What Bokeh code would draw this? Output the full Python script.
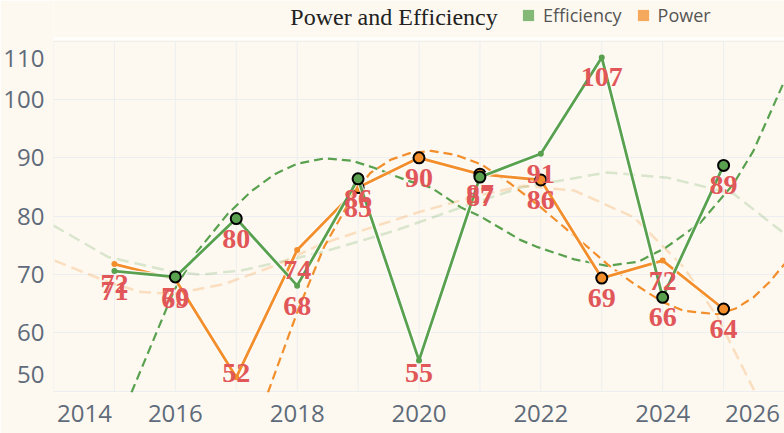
from bokeh.plotting import figure
from bokeh.models import (Range1d, FixedTicker, Legend, LegendItem, Label,
                          ColumnDataSource, Span)
from bokeh.core.properties import value
from bokeh.embed import file_html
from bokeh.resources import INLINE

# ---------------- data ----------------
title_text = "Power and Efficiency"
series_names = ["Efficiency", "Power"]
years = [2015, 2016, 2017, 2018, 2019, 2020, 2021, 2022, 2023, 2024, 2025]
efficiency = [70.6, 69.6, 79.6, 68.1, 86.4, 55.3, 86.7, 90.7, 107.2, 66.1, 88.7]
power = [71.8, 69.2, 52.4, 74.2, 84.9, 90.0, 87.2, 86.2, 69.4, 72.4, 64.1]
eff_highlight = [False, True, True, False, True, False, True, False, False, True, True]
pow_highlight = [False, False, False, False, True, True, True, True, True, False, True]

# trend curves
eff_trend_x = [2015.28, 2015.98, 2016.37, 2016.86, 2017.25, 2017.63, 2018.0, 2018.45,
               2018.9, 2019.26, 2019.81, 2020.2, 2020.69, 2021.02, 2021.67, 2021.95,
               2022.55, 2023.09, 2023.6, 2024.05, 2024.62, 2025.16, 2025.49, 2026.0]
eff_trend_y = [49.8, 67.3, 74.1, 80.4, 84.3, 87.2, 89.0, 89.9,
               89.5, 88.3, 86.1, 84.9, 81.5, 79.9, 75.9, 74.7,
               72.6, 71.5, 72.2, 74.6, 78.9, 85.5, 91.2, 103.2]
pow_trend_x = [2017.52, 2018.01, 2018.44, 2018.93, 2019.2, 2019.54, 2019.85, 2020.2,
               2020.6, 2021.02, 2021.5, 2022.0, 2022.77, 2023.1, 2023.52, 2024.0,
               2024.34, 2024.9, 2025.2, 2025.49, 2025.75, 2026.0]
pow_trend_y = [49.8, 63.8, 74.7, 83.8, 87.4, 89.7, 90.8, 91.2,
               90.5, 88.9, 85.6, 81.5, 74.7, 71.7, 68.5, 65.3,
               63.8, 63.2, 64.2, 66.1, 68.7, 71.8]
eff_soft_x = [2014.0, 2014.9, 2015.99, 2016.43, 2017.08, 2017.9, 2018.5, 2019.6,
              2020.69, 2021.67, 2023.09, 2024.08, 2025.17, 2026.0]
eff_soft_y = [78.4, 73.0, 70.4, 70.0, 70.7, 72.6, 74.1, 77.5,
              81.5, 84.9, 87.5, 86.6, 83.8, 77.0]
pow_soft_x = [2014.02, 2014.9, 2015.44, 2015.99, 2016.81, 2017.63, 2018.39, 2019.05,
              2020.03, 2020.96, 2021.7, 2022.55, 2023.53, 2024.35, 2024.9, 2025.5]
pow_soft_y = [72.4, 68.7, 67.0, 66.7, 68.4, 71.5, 75.2, 77.5,
              80.8, 83.5, 85.2, 84.4, 79.8, 71.2, 62.7, 50.2]

x_labels = [2014, 2016, 2018, 2020, 2022, 2024, 2026]
x_grid = list(range(2014, 2027))
y_labels = [50, 60, 70, 80, 90, 100, 110]

# ---------------- layout / style ----------------
BG = "#fdf9f0"
GREEN = "#59a14f"
ORANGE = "#f28e2b"
RED = "#e15759"
TICK_COLOR = "#5f6b7a"
GRID = "#eceef0"
TICK_FONT = "Open Sans"

W, H = 784, 433
LEFT, BOTTOM, HEADER = 52, 41, 40
FRAME_W = W - LEFT
FRAME_H = H - BOTTOM
X0, X1 = x_labels[0], x_labels[-1]
Y0, YG = 49.8, 110.1                    # data span of the plotting area
PX_X = FRAME_W / (X1 - X0)
PX_Y = (FRAME_H - HEADER) / (YG - Y0)
YTOP = YG + HEADER / PX_Y               # header band lives inside the frame

p = figure(width=W, height=H, output_backend="svg", toolbar_location=None,
           x_range=Range1d(X0, X1), y_range=Range1d(Y0, YTOP),
           min_border_left=LEFT, min_border_right=0, min_border_bottom=BOTTOM,
           min_border_top=0)
p.background_fill_color = BG
p.border_fill_color = BG
p.outline_line_color = None

# axes: end labels pulled inward like the reference
x_ticks = [X0 + 31 / PX_X] + x_labels[1:-1] + [X1 - 32 / PX_X]
y_ticks = [y_labels[0] + 17 / PX_Y] + y_labels[1:-1] + [y_labels[-1] - 17 / PX_Y]
p.xaxis.ticker = FixedTicker(ticks=x_ticks, minor_ticks=[])
p.yaxis.ticker = FixedTicker(ticks=y_ticks, minor_ticks=[])
p.xaxis.major_label_overrides = {t: str(l) for t, l in zip(x_ticks, x_labels)}
p.yaxis.major_label_overrides = {t: str(l) for t, l in zip(y_ticks, y_labels)}
for ax in (p.xaxis, p.yaxis):
    ax.axis_line_color = None
    ax.major_tick_line_color = None
    ax.minor_tick_line_color = None
    ax.major_tick_out = 0
    ax.major_tick_in = 0
    ax.major_label_text_font = TICK_FONT
    ax.major_label_text_font_size = "24px"
    ax.major_label_text_color = TICK_COLOR
p.xaxis.major_label_standoff = 12
p.yaxis.major_label_standoff = 9

# grid
p.xgrid.grid_line_color = None
p.ygrid.ticker = FixedTicker(ticks=y_labels, minor_ticks=[])
p.ygrid.grid_line_color = GRID
p.segment(x0=x_grid, x1=x_grid, y0=[Y0] * len(x_grid), y1=[y_labels[-1]] * len(x_grid),
          line_color=GRID, line_width=1)
# white separator under the header
p.add_layout(Span(location=YG + 2 / PX_Y, dimension="width",
                  line_color="white", line_width=2.5))

# soft trend curves
p.line(eff_soft_x, eff_soft_y, color=GREEN, alpha=0.22, line_width=2.5, line_dash="12 6")
p.line(pow_soft_x, pow_soft_y, color=ORANGE, alpha=0.25, line_width=2.5, line_dash="12 6")
# strong trend curves
p.line(eff_trend_x, eff_trend_y, color=GREEN, line_width=2.2, line_dash="9 5")
p.line(pow_trend_x, pow_trend_y, color=ORANGE, line_width=2.2, line_dash="9 5")

def draw_series(vals, hl, color):
    p.line(years, vals, color="white", alpha=0.8, line_width=5)
    p.line(years, vals, color=color, line_width=2.8)
    p.scatter(years, vals, size=6, color=color, line_color=None)
    hx = [x for x, h in zip(years, hl) if h]
    hy = [v for v, h in zip(vals, hl) if h]
    p.scatter(hx, hy, size=11, fill_color=color, line_color="black", line_width=2)

draw_series(power, pow_highlight, ORANGE)
draw_series(efficiency, eff_highlight, GREEN)

# data labels (20px below the point, kept inside the plotting area)
lab_x, lab_y, lab_t = [], [], []
for vals in (power, efficiency):
    for x, v in zip(years, vals):
        lab_x.append(x)
        lab_y.append(max(v - 20 / PX_Y, Y0 + 20 / PX_Y))
        lab_t.append(str(int(round(v))))
src = ColumnDataSource(dict(x=lab_x, y=lab_y, t=lab_t))
p.text(x="x", y="y", text="t", source=src, text_font=value("Liberation Serif"),
       text_font_style="bold", text_font_size="28px", text_color=RED,
       text_align="center", text_baseline="middle")

# header: title + legend
title = Label(x=X0 + (393 - LEFT) / PX_X, y=YTOP - 16.5 / PX_Y, text=title_text,
              text_font="Liberation Serif", text_font_size="24px",
              text_color="#222222", text_align="center", text_baseline="middle")
p.add_layout(title)

# legend swatches: zero-area quads on the series (invisible in the plot)
sw_e = p.quad(left=years, right=years, top=efficiency, bottom=efficiency,
              fill_color=GREEN, fill_alpha=0.75, line_color=None)
sw_p = p.quad(left=years, right=years, top=power, bottom=power,
              fill_color=ORANGE, fill_alpha=0.75, line_color=None)
legend = Legend(items=[LegendItem(label=series_names[0], renderers=[sw_e]),
                       LegendItem(label=series_names[1], renderers=[sw_p])],
                orientation="horizontal", location=(468, FRAME_H - 27),
                background_fill_alpha=0, border_line_color=None,
                label_text_font="Open Sans", label_text_font_size="18px",
                label_text_color="#555555", glyph_width=14, glyph_height=14,
                label_standoff=8, spacing=14, padding=0, margin=0)
p.add_layout(legend, "center")

open("out.html", "w").write(file_html(p, INLINE))
